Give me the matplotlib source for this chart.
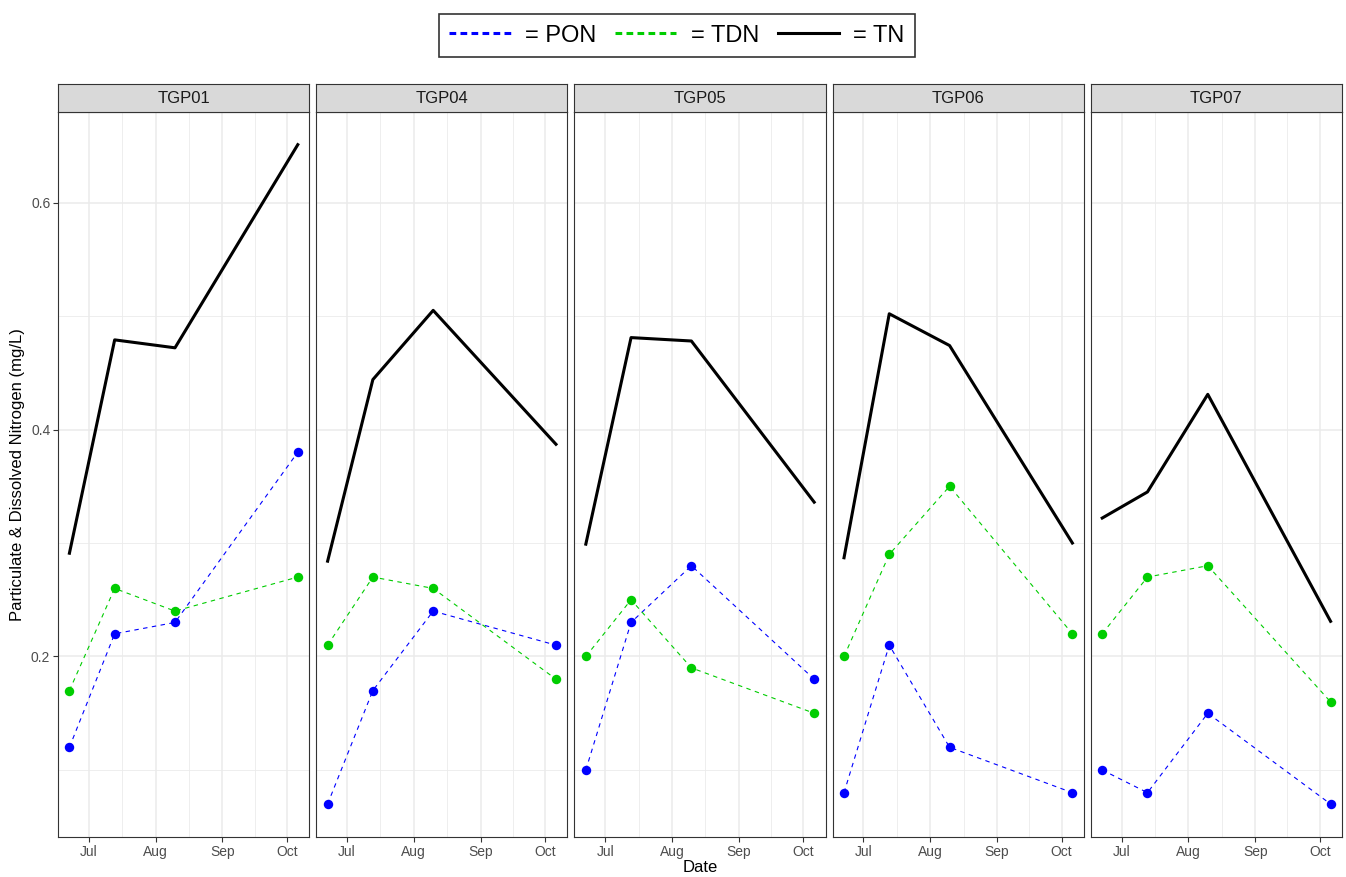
import numpy as np
import pandas as pd
import matplotlib
matplotlib.use("Agg")
import matplotlib.pyplot as plt
import matplotlib.dates as mdates
from matplotlib.lines import Line2D

plt.rcParams["font.family"] = ["Liberation Sans", "DejaVu Sans"]

# sampling sites and dates
SITES = ["TGP01", "TGP04", "TGP05", "TGP06", "TGP07"]
DATES = pd.to_datetime(["2019-06-22", "2019-07-13", "2019-08-10", "2019-10-06"])

# nitrogen fractions (mg/L), one list per site
PON = [
    [0.12, 0.22, 0.23, 0.38],
    [0.07, 0.17, 0.24, 0.21],
    [0.10, 0.23, 0.28, 0.18],
    [0.08, 0.21, 0.12, 0.08],
    [0.10, 0.08, 0.15, 0.07],
]
TDN = [
    [0.17, 0.26, 0.24, 0.27],
    [0.21, 0.27, 0.26, 0.18],
    [0.20, 0.25, 0.19, 0.15],
    [0.20, 0.29, 0.35, 0.22],
    [0.22, 0.27, 0.28, 0.16],
]
TN = [
    [0.291, 0.479, 0.472, 0.651],
    [0.284, 0.444, 0.505, 0.387],
    [0.299, 0.481, 0.478, 0.336],
    [0.287, 0.502, 0.474, 0.300],
    [0.322, 0.345, 0.431, 0.231],
]

PON_COLOR = "#0000FF"
TDN_COLOR = "#00CD00"
TN_COLOR = "black"
TEXT_GREY = "#4D4D4D"
BORDER = "#333333"

W, H = 1346, 877
fig = plt.figure(figsize=(W / 100, H / 100), dpi=100)

left_px, right_px = 58, 1342
gap_px = 7
panel_w = (right_px - left_px - 4 * gap_px) / 5
top_px, bottom_px = 111.7, 837
strip_h = 27.7

# y limits with 5% padding like ggplot
all_vals = np.concatenate([np.ravel(PON), np.ravel(TDN), np.ravel(TN)])
ypad = 0.05 * (all_vals.max() - all_vals.min())
ylim = (all_vals.min() - ypad, all_vals.max() + ypad)

xnum = mdates.date2num(DATES)
xpad = 0.05 * (xnum.max() - xnum.min())
xlim = (xnum.min() - xpad, xnum.max() + xpad)

major_x = mdates.date2num(pd.to_datetime(["2019-07-01", "2019-08-01", "2019-09-01", "2019-10-01"]))
minor_x = (major_x[:-1] + major_x[1:]) / 2

axes = []
for i, site in enumerate(SITES):
    x0 = left_px + i * (panel_w + gap_px)
    ax = fig.add_axes([x0 / W, 1 - bottom_px / H, panel_w / W, (bottom_px - top_px) / H])
    ax.set_xlim(xlim)
    ax.set_ylim(ylim)

    for v in [0.1, 0.3, 0.5]:
        ax.axhline(v, color="#EBEBEB", lw=0.6, zorder=0)
    for v in [0.2, 0.4, 0.6]:
        ax.axhline(v, color="#EBEBEB", lw=1.1, zorder=0)
    for v in minor_x:
        ax.axvline(v, color="#EBEBEB", lw=0.6, zorder=0)
    for v in major_x:
        ax.axvline(v, color="#EBEBEB", lw=1.1, zorder=0)

    ax.plot(xnum, TN[i], color=TN_COLOR, lw=2.2, zorder=3)
    ax.plot(xnum, PON[i], color=PON_COLOR, lw=0.8, ls=(0, (4, 4)), zorder=3)
    ax.plot(xnum, TDN[i], color=TDN_COLOR, lw=0.8, ls=(0, (4, 4)), zorder=3)
    ax.plot(xnum, PON[i], "o", color=PON_COLOR, ms=6.8, mew=0, zorder=4)
    ax.plot(xnum, TDN[i], "o", color=TDN_COLOR, ms=6.8, mew=0, zorder=4)

    ax.set_xticks(major_x)
    ax.set_xticklabels(["Jul", "Aug", "Sep", "Oct"])
    ax.set_yticks([0.2, 0.4, 0.6])
    ax.set_yticklabels(["0.2", "0.4", "0.6"])
    ax.tick_params(colors="#333333", labelcolor=TEXT_GREY, labelsize=10, length=3.5, width=0.8, pad=2)
    if i > 0:
        ax.tick_params(axis="y", left=False, labelleft=False)
    for s in ax.spines.values():
        s.set_color(BORDER)
        s.set_linewidth(0.8)

    # facet strip
    sax = fig.add_axes([x0 / W, 1 - top_px / H, panel_w / W, strip_h / H])
    sax.set_facecolor("#D9D9D9")
    sax.set_xticks([])
    sax.set_yticks([])
    for s in sax.spines.values():
        s.set_color(BORDER)
        s.set_linewidth(0.8)
    sax.text(0.5, 0.48, site, ha="center", va="center", fontsize=12, color="#1A1A1A",
             transform=sax.transAxes)
    axes.append(ax)

fig.text(18 / W, 1 - ((top_px + bottom_px) / 2) / H, "Particulate & Dissolved Nitrogen (mg/L)",
         rotation=90, ha="center", va="center", fontsize=12)
fig.text(((left_px + right_px) / 2) / W, 1 - 868 / H, "Date", ha="center", va="center", fontsize=12)

handles = [
    Line2D([], [], color=PON_COLOR, lw=2.2, ls=(0, (2.2, 1.4))),
    Line2D([], [], color=TDN_COLOR, lw=2.2, ls=(0, (2.2, 1.4))),
    Line2D([], [], color=TN_COLOR, lw=2.2),
]
leg = fig.legend(handles, ["= PON", "= TDN", "= TN"], loc="center",
                 bbox_to_anchor=(677 / W, 1 - 35.5 / H), ncol=3, fontsize=17,
                 frameon=True, fancybox=False, edgecolor="black", handlelength=2.6,
                 handletextpad=0.6, columnspacing=0.8, borderpad=0.45)
leg.get_frame().set_linewidth(1.2)

fig.savefig("out.png", dpi=100)
